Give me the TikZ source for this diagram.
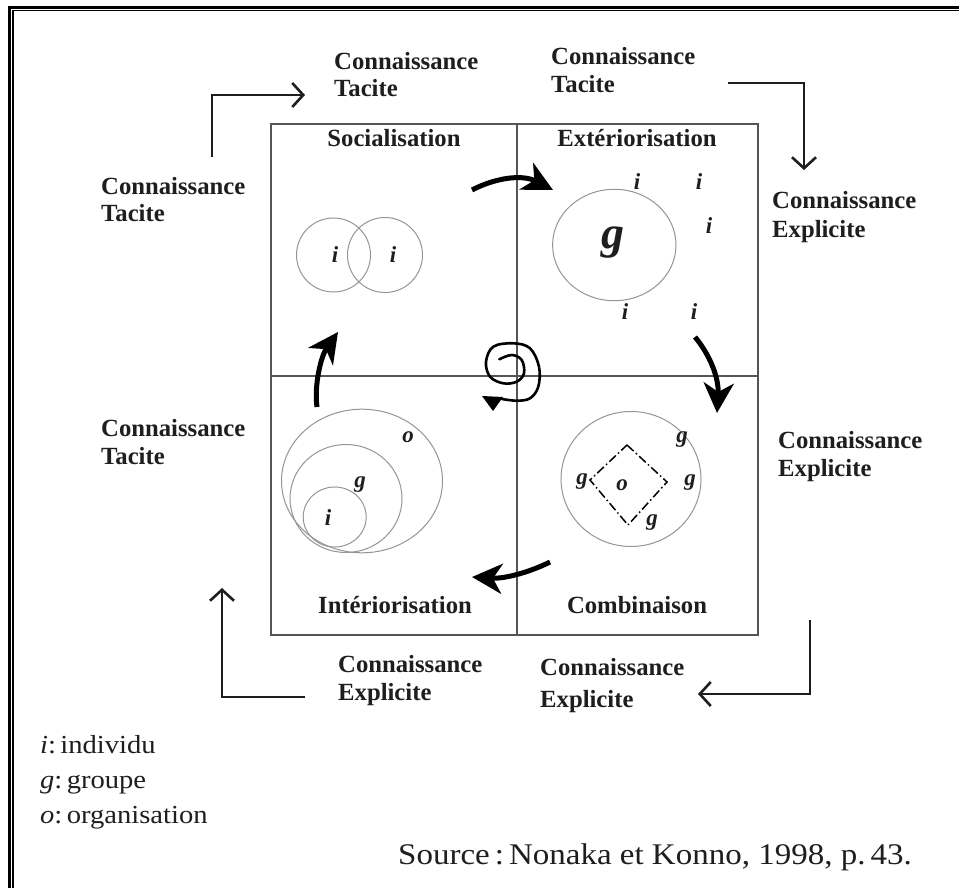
\documentclass[tikz,border=0pt]{standalone}
\usepackage{fontspec}
\setmainfont{Liberation Serif}
\newfontfamily\legfont[FakeStretch=1.1]{Liberation Serif}
\usetikzlibrary{arrows.meta}
\definecolor{ink}{HTML}{1E1E1E}
\definecolor{framec}{HTML}{555555}
\definecolor{circc}{HTML}{959595}
\begin{document}
\begin{tikzpicture}[x=1pt,y=-1pt,
  lbl/.style={font=\bfseries\fontsize{24.7}{28}\selectfont, text=ink, inner sep=0, anchor=base west},
  ttl/.style={font=\bfseries\fontsize{24.7}{28}\selectfont, text=ink, inner sep=0, anchor=base},
  letr/.style={font=\bfseries\itshape\fontsize{23}{23}\selectfont, text=ink, inner sep=0},
  leg/.style={font=\legfont\fontsize{26}{28}\selectfont, text=ink, inner sep=0, anchor=base west},
  bigarrow/.style={draw=black, line width=5pt, -{Stealth[length=30pt,width=30pt,inset=9pt]}},
  elbow/.style={draw=ink, line width=2.6pt, -{Straight Barb[length=11pt,width=24pt]}},
  quad/.style={draw=framec, line width=1.6pt},
  ring/.style={draw=circc, line width=1pt},
]
\useasboundingbox (0,0) rectangle (959,888);
\fill[white] (0,0) rectangle (959,888);
% outer double frame
\draw[line width=2.7pt] (9.3,888) -- (9.3,7.3) -- (959,7.3);
\draw[line width=1.3pt] (13,888) -- (13,10.7) -- (959,10.7);

% quadrant square
\draw[quad] (271,124) rectangle (758,635);
\draw[quad] (517,124) -- (517,635);
\draw[quad] (271,376) -- (758,376);

% titles
\node[ttl] (soc) at (394,147) {Socialisation};
\node[ttl] (ext) at (637,147) {Extériorisation};
\node[ttl] (int) at (395,613) {Intériorisation};
\node[ttl] (com) at (637,613) {Combinaison};

% Socialisation
\draw[ring] (333.5,255) circle [radius=37pt];
\draw[ring] (385,255) circle [radius=37.5pt];
\node[letr] (s1) at (335,255) {i};
\node[letr] (s2) at (393,255) {i};

% Exteriorisation
\draw[ring] (614.3,245) ellipse [x radius=61.7pt, y radius=55.7pt];
\node[font=\bfseries\itshape\fontsize{46}{46}\selectfont, text=ink, inner sep=0] (eg) at (613,243) {g};
\node[letr] (e1) at (637,182) {i};
\node[letr] (e2) at (699,182) {i};
\node[letr] (e3) at (709,226) {i};
\node[letr] (e4) at (625,312) {i};
\node[letr] (e5) at (694,312) {i};

% Interiorisation
\draw[ring] (362,481) ellipse [x radius=80.5pt, y radius=71.8pt];
\draw[ring] (346,498.5) ellipse [x radius=56pt, y radius=54pt];
\draw[ring] (334.7,517) ellipse [x radius=31.5pt, y radius=30pt];
\node[letr] (io) at (408,437) {o};
\node[letr] (ig) at (360,485) {g};
\node[letr] (ii) at (328,518) {i};

% Combinaison
\draw[ring] (631,479) ellipse [x radius=70pt, y radius=67.5pt];
\draw[line width=1.5pt, dash pattern=on 9pt off 3pt on 1.5pt off 3pt]
  (627,445) -- (667,482) -- (628,525) -- (590,480) -- cycle;
\node[letr] (co) at (622,485) {o};
\node[letr] (cg1) at (682,440) {g};
\node[letr] (cg2) at (690,483) {g};
\node[letr] (cg3) at (652,523) {g};
\node[letr] (cg4) at (582,482) {g};

% curved cycle arrows
\coordinate (a1s) at (472,190);
\coordinate (a1e) at (553,190);
\draw[bigarrow] (a1s) .. controls (495,178) and (522,174) .. (a1e);
\coordinate (a2s) at (695,337);
\coordinate (a2e) at (717,413);
\draw[bigarrow] (a2s) .. controls (710,355) and (719,378) .. (a2e);
\coordinate (a3s) at (550,562);
\coordinate (a3e) at (472,577);
\draw[bigarrow] (a3s) .. controls (530,572) and (505,579) .. (a3e);
\coordinate (a4s) at (317,407);
\coordinate (a4e) at (338,332);
\draw[bigarrow] (a4s) .. controls (314,385) and (321,356) .. (a4e);

% central spiral
\draw[black, line width=2.6pt, line cap=round]
  plot[smooth, tension=0.6] coordinates {(499.3,359.3) (511.7,355) (521.7,360) (524,373.3) (516.7,381.7) (503.3,383.3) (490,376.7) (486,361.7) (493.3,346.7) (513.3,343.3) (530,348.3) (539,366.7) (538.3,386.7) (530,398.3) (516.7,400.7) (502,399)};
\fill[black] (482,396) -- (503,397) -- (493,411) -- cycle;

% outer knowledge labels
\node[lbl] (tl1) at (334,70) {Connaissance};
\node[lbl] (tl2) at (334,97) {Tacite};
\node[lbl] (tr1) at (551,65) {Connaissance};
\node[lbl] (tr2) at (551,93) {Tacite};
\node[lbl] (ru1) at (772,208) {Connaissance};
\node[lbl] (ru2) at (772,237) {Explicite};
\node[lbl] (rl1) at (778,448) {Connaissance};
\node[lbl] (rl2) at (778,476) {Explicite};
\node[lbl] (lu1) at (101,195) {Connaissance};
\node[lbl] (lu2) at (101,222) {Tacite};
\node[lbl] (ll1) at (101,436) {Connaissance};
\node[lbl] (ll2) at (101,464) {Tacite};
\node[lbl] (bl1) at (338,672) {Connaissance};
\node[lbl] (bl2) at (338,700) {Explicite};
\node[lbl] (br1) at (540,675) {Connaissance};
\node[lbl] (br2) at (540,707) {Explicite};

% elbow arrows
\coordinate (e1a) at (212,157);
\coordinate (e1b) at (212,95);
\coordinate (e1c) at (305,95);
\draw[elbow] (e1a) -- (e1b) -- (e1c);
\coordinate (e2a) at (728,83);
\coordinate (e2b) at (804,83);
\coordinate (e2c) at (804,170);
\draw[elbow] (e2a) -- (e2b) -- (e2c);
\coordinate (e3a) at (810,620);
\coordinate (e3b) at (810,694);
\coordinate (e3c) at (698,694);
\draw[elbow] (e3a) -- (e3b) -- (e3c);
\coordinate (e4a) at (305,697);
\coordinate (e4b) at (222,697);
\coordinate (e4c) at (222,588);
\draw[elbow] (e4a) -- (e4b) -- (e4c);

% legend
\node[leg] (lg1) at (40,753) {\textit{i}:\,individu};
\node[leg] (lg2) at (40,788) {\textit{g}:\,groupe};
\node[leg] (lg3) at (40,823) {\textit{o}:\,organisation};
\node[font=\legfont\fontsize{30}{32}\selectfont, text=ink, inner sep=0, anchor=base east] (src) at (912,864) {Source\,:\,Nonaka et Konno, 1998, p.\,43.};
\end{tikzpicture}
\end{document}
